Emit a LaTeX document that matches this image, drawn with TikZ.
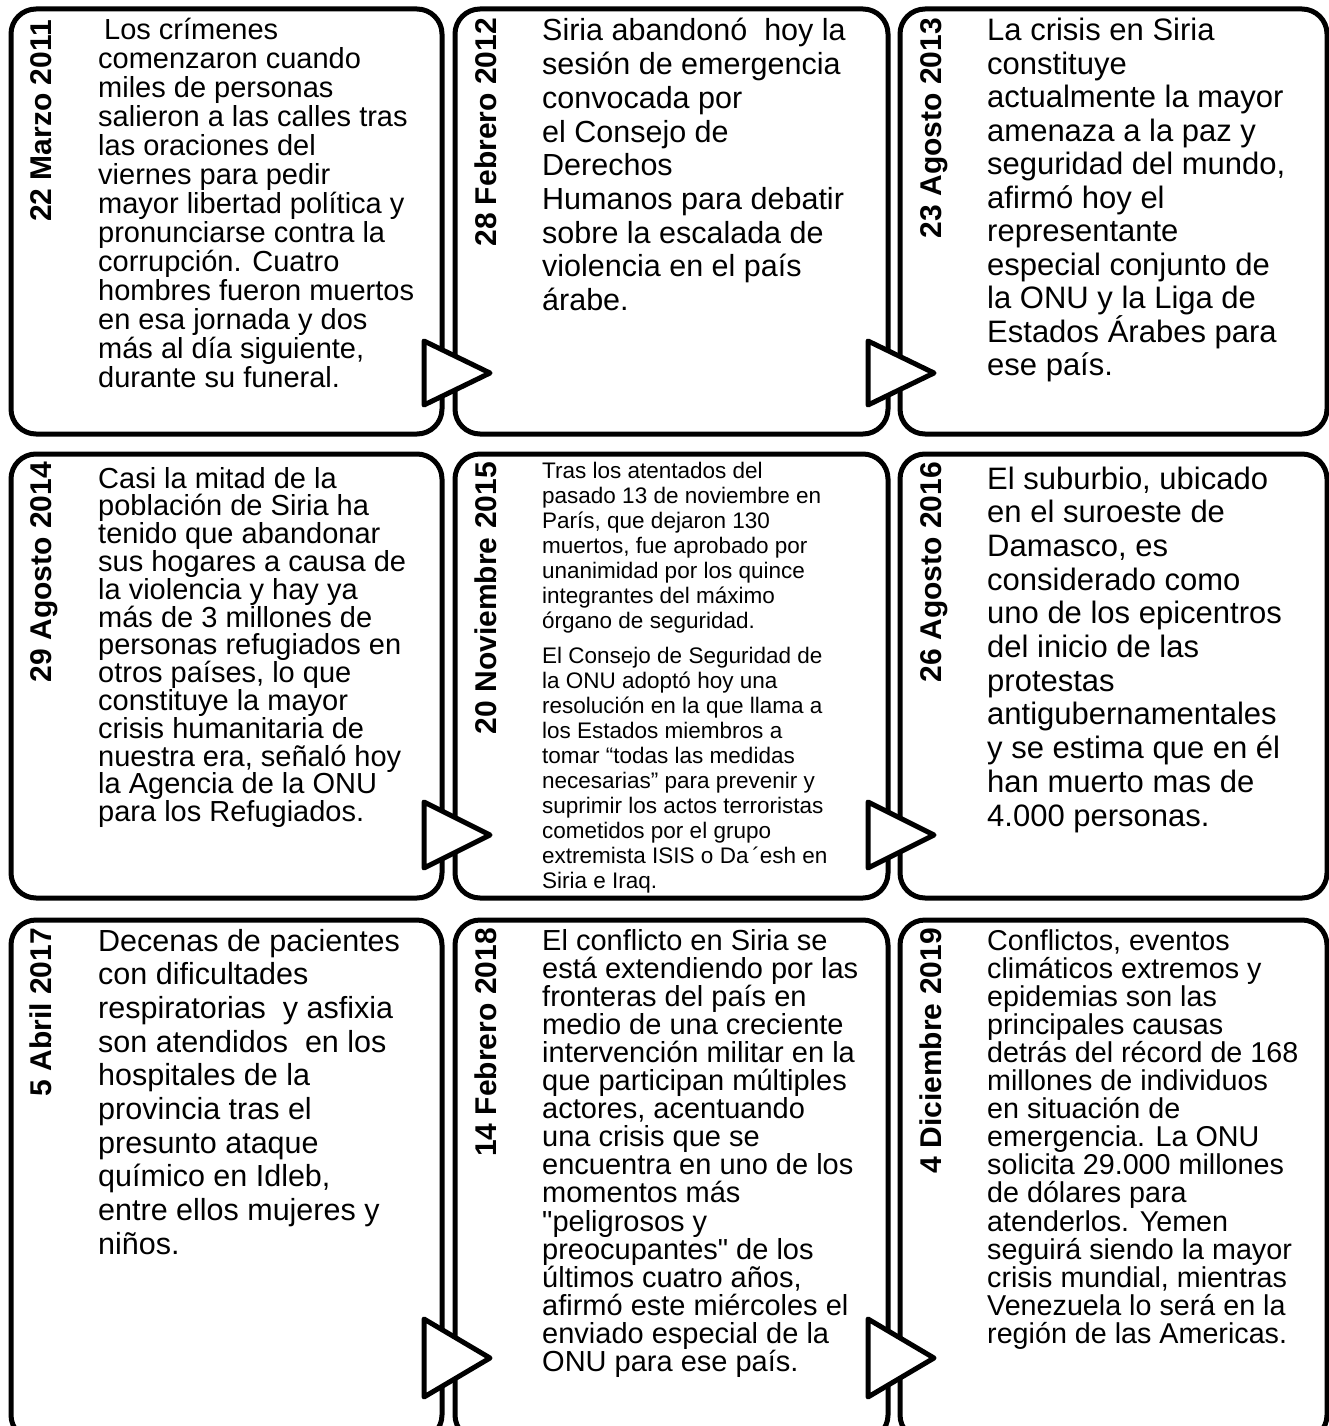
\documentclass[tikz,border=0pt]{standalone}
\usepackage{fontspec}
\setmainfont{Liberation Sans}
\newcommand{\bodytxt}[3]{\parbox[t]{420pt}{\fontsize{#1}{#2}\selectfont\raggedright #3}}
\begin{document}
\begin{tikzpicture}[x=1pt,y=-1pt,
  card/.style={draw=black, line width=5pt, rounded corners=25pt, fill=white, inner sep=0pt},
  datelabel/.style={rotate=90, anchor=base east, inner sep=0pt, font=\fontsize{30}{32}\selectfont\bfseries},
  body/.style={anchor=base west, inner sep=0pt},
  tab/.style={draw=black, fill=white, line width=5pt, line join=round}]
\useasboundingbox (0,0) rectangle (1329,1426);
\clip (0,0) rectangle (1329,1426);
% cards
\node[card, minimum width=431pt, minimum height=425pt] (c1) at (226.5,221.5) {};
\node[card, minimum width=433pt, minimum height=425pt] (c2) at (671.5,221.5) {};
\node[card, minimum width=427pt, minimum height=425pt] (c3) at (1113.5,221.5) {};
\node[card, minimum width=431pt, minimum height=444pt] (c4) at (226.5,676) {};
\node[card, minimum width=433pt, minimum height=444pt] (c5) at (671.5,676) {};
\node[card, minimum width=427pt, minimum height=444pt] (c6) at (1113.5,676) {};
\node[card, minimum width=431pt, minimum height=520pt] (c7) at (226.5,1180) {};
\node[card, minimum width=433pt, minimum height=520pt] (c8) at (671.5,1180) {};
\node[card, minimum width=427pt, minimum height=520pt] (c9) at (1113.5,1180) {};
% tabs
\draw[tab] (424,341) -- (490,373) -- (424,405) -- cycle;
\draw[tab] (868,341) -- (934,373) -- (868,405) -- cycle;
\draw[tab] (424,802) -- (490,835) -- (424,868) -- cycle;
\draw[tab] (868,802) -- (934,835) -- (868,868) -- cycle;
\draw[tab] (424,1319) -- (490,1358) -- (424,1397) -- cycle;
\draw[tab] (868,1319) -- (934,1358) -- (868,1397) -- cycle;
% dates
\node[datelabel] (d1) at (51,20) {22 Marzo 2011};
\node[datelabel] (d2) at (496,18) {28 Febrero 2012};
\node[datelabel] (d3) at (941,18) {23 Agosto 2013};
\node[datelabel] (d4) at (51,462) {29 Agosto 2014};
\node[datelabel] (d5) at (496,462) {20 Noviembre 2015};
\node[datelabel] (d6) at (941,462) {26 Agosto 2016};
\node[datelabel] (d7) at (51,928) {5 Abril 2017};
\node[datelabel] (d8) at (496,928) {14 Febrero 2018};
\node[datelabel] (d9) at (941,928) {4 Diciembre 2019};
% texts
\node[body] (t1) at (98,40) {\bodytxt{29}{29}{\hspace*{6pt}Los crímenes\\
comenzaron cuando\\
miles de personas\\
salieron a las calles tras\\
las oraciones del\\
viernes para pedir\\
mayor libertad política y\\
pronunciarse contra la\\
corrupción. Cuatro\\
hombres fueron muertos\\
en esa jornada y dos\\
más al día siguiente,\\
durante su funeral.}};
\node[body] (t2) at (542,41) {\bodytxt{30.5}{33.7}{Siria abandonó\ \ hoy la\\
sesión de emergencia\\
convocada por\\
el Consejo de\\
Derechos\\
Humanos para debatir\\
sobre la escalada de\\
violencia en el país\\
árabe.}};
\node[body] (t3) at (987,41) {\bodytxt{31}{33.5}{La crisis en Siria\\
constituye\\
actualmente la mayor\\
amenaza a la paz y\\
seguridad del mundo,\\
afirmó hoy el\\
representante\\
especial conjunto de\\
la ONU y la Liga de\\
Estados Árabes para\\
ese país.}};
\node[body] (t4) at (98,488) {\bodytxt{29}{27.8}{Casi la mitad de la\\
población de Siria ha\\
tenido que abandonar\\
sus hogares a causa de\\
la violencia y hay ya\\
más de 3 millones de\\
personas refugiados en\\
otros países, lo que\\
constituye la mayor\\
crisis humanitaria de\\
nuestra era, señaló hoy\\
la Agencia de la ONU\\
para los Refugiados.}};
\node[body] (t5) at (542,478) {\bodytxt{22.5}{25}{Tras los atentados del\\
pasado 13 de noviembre en\\
París, que dejaron 130\\
muertos, fue aprobado por\\
unanimidad por los quince\\
integrantes del máximo\\
órgano de seguridad.\par\vspace{10pt}
El Consejo de Seguridad de\\
la ONU adoptó hoy una\\
resolución en la que llama a\\
los Estados miembros a\\
tomar “todas las medidas\\
necesarias” para prevenir y\\
suprimir los actos terroristas\\
cometidos por el grupo\\
extremista ISIS o Da\,´esh en\\
Siria e Iraq.}};
\node[body] (t6) at (987,489) {\bodytxt{31}{33.7}{El suburbio,\ ubicado\\
en el suroeste de\\
Damasco, es\\
considerado como\\
uno de los epicentros\\
del inicio de las\\
protestas\\
antigubernamentales\\
y se estima que en él\\
han muerto mas de\\
4.000 personas.}};
\node[body] (t7) at (98,951) {\bodytxt{30.5}{33.7}{Decenas de pacientes\\
con dificultades\\
respiratorias\ \ y asfixia\\
son atendidos\ \ en los\\
hospitales de la\\
provincia tras el\\
presunto ataque\\
químico en Idleb,\\
entre ellos mujeres y\\
niños.}};
\node[body] (t8) at (542,950) {\bodytxt{29}{28.1}{El conflicto en Siria se\\
está extendiendo por las\\
fronteras del país en\\
medio de una creciente\\
intervención militar en la\\
que participan múltiples\\
actores, acentuando\\
una crisis que se\\
encuentra en uno de los\\
momentos más\\
\textquotedbl peligrosos y\\
preocupantes\textquotedbl{} de los\\
últimos cuatro años,\\
afirmó este miércoles el\\
enviado especial de la\\
ONU para ese país.}};
\node[body] (t9) at (987,950) {\bodytxt{28.7}{28.1}{Conflictos, eventos\\
climáticos extremos y\\
epidemias son las\\
principales causas\\
detrás del récord de 168\\
millones de individuos\\
en situación de\\
emergencia. La ONU\\
solicita 29.000 millones\\
de dólares para\\
atenderlos. Yemen\\
seguirá siendo la mayor\\
crisis mundial, mientras\\
Venezuela lo será en la\\
región de las Americas.}};
\end{tikzpicture}
\end{document}
